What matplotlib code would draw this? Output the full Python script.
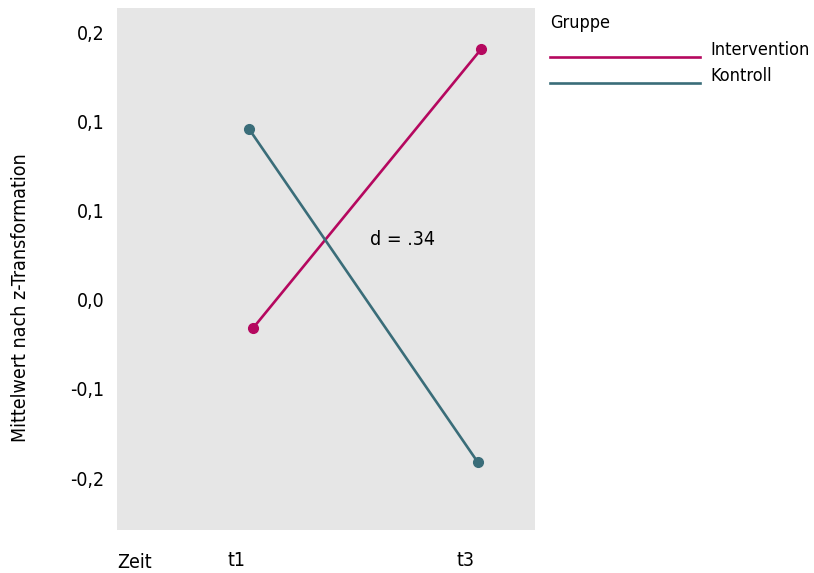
import matplotlib
matplotlib.use('Agg')
import matplotlib.pyplot as plt
import matplotlib.transforms as mtransforms
from matplotlib.lines import Line2D
from matplotlib.legend_handler import HandlerLine2D

plt.rcParams['font.family'] = ['DejaVu Sans']
plt.rcParams['font.stretch'] = 'condensed'

# data
zeitpunkte = ['t1', 't3']
x_pos = [1, 2]
intervention = [-0.016, 0.141]
kontroll = [0.096, -0.091]
effekt = 'd = .34'
y_ticks = [0.15, 0.10, 0.05, 0.0, -0.05, -0.10]
y_labels = ['0,2', '0,1', '0,1', '0,0', '-0,1', '-0,2']

C_INT = '#b5085f'
C_KON = '#3a6d79'
FS = 14
FS_LEG = 13


class LowLine(HandlerLine2D):
    # legend line sits a bit below the label text, like in the original
    def create_artists(self, legend, orig_handle, xdescent, ydescent,
                       width, height, fontsize, trans):
        arts = super().create_artists(legend, orig_handle, xdescent, ydescent,
                                      width, height, fontsize, trans)
        for a in arts:
            a.set_ydata([y - 6 for y in a.get_ydata()])
            a.set_marker('')
        return arts


fig = plt.figure(figsize=(8.14, 5.73), dpi=100)
ax = fig.add_axes([117 / 814, 1 - 530 / 573, 418 / 814, 522 / 573])
ax.set_facecolor('#e6e6e6')

dodge = 0.008
ax.plot([x + dodge for x in x_pos], intervention, color=C_INT, lw=1.9,
        marker='o', ms=7, label='Intervention')
ax.plot([x - dodge for x in x_pos], kontroll, color=C_KON, lw=1.9,
        marker='o', ms=7, label='Kontroll')
ax.text(1.52, 0.0337, effekt, fontsize=FS, va='center', ha='left')

ax.set_xlim(0.414, 2.243)
ax.set_ylim(-0.1292, 0.164)
for s in ax.spines.values():
    s.set_visible(False)

ax.set_yticks(y_ticks, y_labels)
ax.set_xticks(x_pos, zeitpunkte)
ax.tick_params(length=0, labelsize=FS)
ax.tick_params(axis='y', pad=9)
ax.tick_params(axis='x', pad=15)
shift = mtransforms.ScaledTranslation(-14 / 100, 0, fig.dpi_scale_trans)
for lab in ax.get_xticklabels():
    lab.set_transform(lab.get_transform() + shift)
ax.text(0, -32 / 522, 'Zeit', transform=ax.transAxes, fontsize=FS,
        ha='left', va='center')

ax.set_ylabel('Mittelwert nach z-Transformation', fontsize=FS)
ax.yaxis.set_label_coords(-0.208, 0.446)

leg = ax.legend(loc='upper left', bbox_to_anchor=(545 / 814, 1 - 9 / 573),
                bbox_transform=fig.transFigure, frameon=False, title='Gruppe',
                fontsize=FS_LEG, title_fontsize=FS_LEG, handlelength=8.3,
                handletextpad=0.55, labelspacing=0.45, alignment='left',
                borderaxespad=0, borderpad=0.3,
                handler_map={Line2D: LowLine()})

fig.savefig('out.png', dpi=100)
